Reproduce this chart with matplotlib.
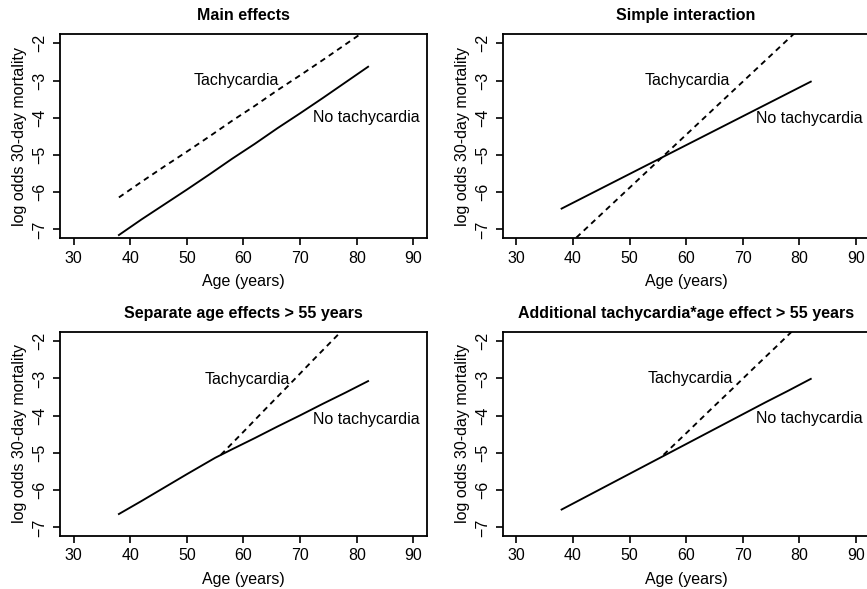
import matplotlib
matplotlib.use("Agg")
import matplotlib.pyplot as plt

plt.rcParams['font.family'] = ['Liberation Sans', 'DejaVu Sans']

#==========================================================================
# Datos
#==========================================================================
titulos = ["Main effects", "Simple interaction",
           "Separate age effects > 55 years",
           "Additional tachycardia*age effect > 55 years"]

edad = [38, 42, 46, 50, 54, 58, 62, 66, 70, 74, 78, 82]

# Main effects
p1_no = [-7.15, -6.73, -6.33, -5.93, -5.52, -5.10, -4.70, -4.28, -3.88, -3.47, -3.05, -2.63]
p1_ta = [-6.14, -5.72, -5.31, -4.91, -4.50, -4.08, -3.68, -3.26, -2.86, -2.45, -2.03, -1.61]

# Simple interaction
p2_no = [-6.44, -6.13, -5.82, -5.51, -5.20, -4.89, -4.58, -4.27, -3.96, -3.65, -3.34, -3.03]
p2_ta = [-7.59, -7.02, -6.45, -5.88, -5.31, -4.74, -4.17, -3.60, -3.03, -2.46, -1.89, -1.32]

# Separate age effects > 55
edad3_no = [38, 42, 46, 50, 55, 58, 62, 66, 70, 74, 78, 82]
p3_no = [-6.64, -6.29, -5.93, -5.57, -5.13, -4.90, -4.60, -4.29, -3.99, -3.68, -3.38, -3.07]
edad3_ta = [56, 60, 64, 68, 72, 76, 78]
p3_ta = [-5.05, -4.43, -3.80, -3.18, -2.55, -1.93, -1.62]

# Additional tachycardia*age effect > 55
edad4_no = [38, 42, 46, 50, 56, 58, 62, 66, 70, 74, 78, 82]
p4_no = [-6.52, -6.20, -5.88, -5.56, -5.08, -4.92, -4.60, -4.28, -3.96, -3.64, -3.33, -3.01]
edad4_ta = [56, 60, 64, 68, 72, 76, 80]
p4_ta = [-5.05, -4.47, -3.88, -3.30, -2.71, -2.13, -1.54]

series = [
    (edad, p1_no, edad, p1_ta),
    (edad, p2_no, edad, p2_ta),
    (edad3_no, p3_no, edad3_ta, p3_ta),
    (edad4_no, p4_no, edad4_ta, p4_ta),
]

# posiciones de las etiquetas (x, y)
etq_ta = [(58.8, -3.0), (60.2, -3.0), (60.7, -3.03), (60.7, -3.01)]
etq_no = [(81.6, -4.0), (81.8, -4.03), (81.6, -4.1), (81.8, -4.08)]

x_ticks = [30, 40, 50, 60, 70, 80, 90]
y_ticks = [-7, -6, -5, -4, -3, -2]

#==========================================================================
# Figura
#==========================================================================
fig = plt.figure(figsize=(8.67, 5.89), dpi=100)

W = 0.4233
H = 0.3464
posiciones = [
    [0.0692, 0.5959, W, H],
    [0.5798, 0.5959, W, H],
    [0.0692, 0.0900, W, H],
    [0.5798, 0.0900, W, H],
]

fs = 11.5
for i in range(4):
    ax = fig.add_axes(posiciones[i])
    xn, yn, xt, yt = series[i]
    ax.plot(xn, yn, color='black', lw=1.35, solid_joinstyle='round')
    ax.plot(xt, yt, color='black', lw=1.35, linestyle=(0, (3.0, 2.4)))

    ax.text(etq_ta[i][0], etq_ta[i][1], "Tachycardia", ha='center', va='center', fontsize=fs)
    ax.text(etq_no[i][0], etq_no[i][1], "No tachycardia", ha='center', va='center', fontsize=fs)

    ax.set_xlim(27.6, 92.4)
    ax.set_ylim(-7.23, -1.75)
    ax.set_xticks(x_ticks)
    ax.set_yticks(y_ticks)
    ax.set_xticklabels([str(t) for t in x_ticks], fontsize=fs)
    ax.set_yticklabels([str(t).replace('-', '\u2212') for t in y_ticks],
                       fontsize=fs, rotation=90, va='center')
    ax.tick_params(axis='both', direction='out', length=5, width=1.2, color='black')
    ax.tick_params(axis='x', pad=4)
    ax.tick_params(axis='y', pad=4)
    for s in ax.spines.values():
        s.set_linewidth(1.3)

    ax.set_xlabel("Age (years)", fontsize=fs, labelpad=6)
    ax.set_ylabel("log odds 30-day mortality", fontsize=fs, labelpad=4)
    ax.set_title(titulos[i], fontsize=fs, fontweight='bold', pad=10)

fig.savefig("out.png", dpi=100)
